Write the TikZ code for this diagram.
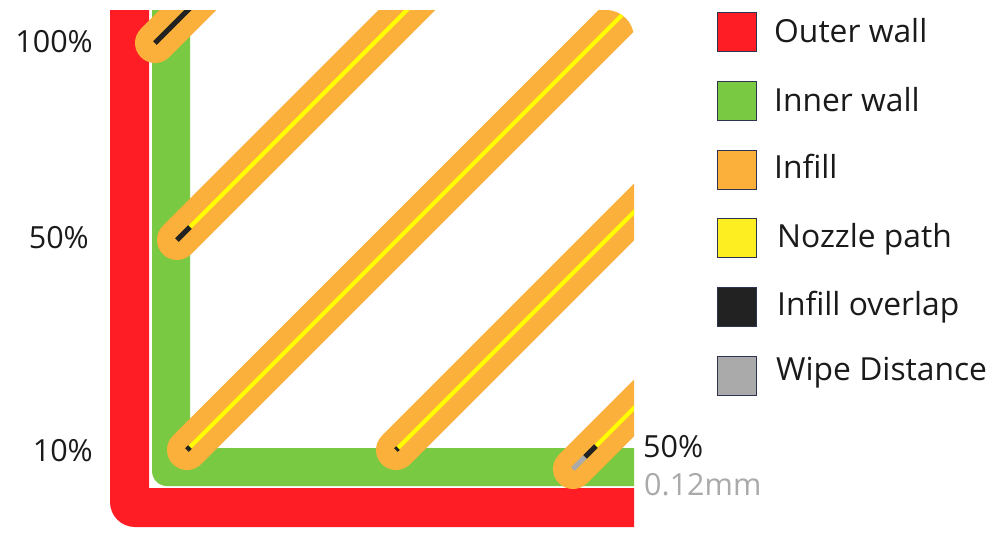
\documentclass[tikz,border=0pt]{standalone}
\usepackage{fontspec}
\setmainfont{Open Sans}
\definecolor{wallred}{HTML}{FF1D25}
\definecolor{wallgreen}{HTML}{7AC943}
\definecolor{infillorange}{HTML}{FBB03B}
\definecolor{nozzleyellow}{HTML}{FFFF00}
\definecolor{legendyellow}{HTML}{FCEE21}
\definecolor{overlapblack}{HTML}{222222}
\definecolor{wipegray}{HTML}{AAAAAA}
\definecolor{boxborder}{HTML}{2E3350}
\definecolor{textdark}{HTML}{1A1A1A}
\begin{document}
\begin{tikzpicture}[x=1pt,y=-1pt,
  infill/.style={draw=infillorange,line width=40pt,line cap=round},
  nozzle/.style={draw=nozzleyellow,line width=4pt},
  overlap/.style={draw=overlapblack,line width=5pt},
  wipe/.style={draw=wipegray,line width=5pt},
  legbox/.style={draw=boxborder,line width=1.6pt,minimum size=39pt,inner sep=0pt},
  legtext/.style={anchor=base west,inner sep=0pt,text=textdark,font=\fontsize{31.8}{36}\selectfont},
  pct/.style={inner sep=0pt,text=textdark,font=\fontsize{30.5}{36}\selectfont}]
\useasboundingbox (0,0) rectangle (1000,539);
\fill[white] (0,0) rectangle (1000,539);

% named coordinates of the infill lines
\coordinate (c1) at (155,43);  \coordinate (b1) at (190,8);   \coordinate (e1) at (655,-457);
\coordinate (c2) at (177,240); \coordinate (b2) at (190,227); \coordinate (e2) at (677,-260);
\coordinate (c3) at (187,450); \coordinate (b3) at (190,447); \coordinate (e3) at (687,-50);
\coordinate (c4) at (396,450); \coordinate (b4) at (398,448); \coordinate (e4) at (896,-50);
\coordinate (c5) at (573,469); \coordinate (g5) at (585,457); \coordinate (b5) at (596,446); \coordinate (e5) at (1073,-31);

\begin{scope}
\clip (110,10) -- (606,10) .. controls (621.5,10) and (634,22.5) .. (634,38)
  -- (634,527) -- (135,527) .. controls (121.2,527) and (110,515.8) .. (110,502) -- cycle;
% outer wall
\fill[wallred] (110,0) -- (149,0) -- (149,488) -- (640,488) -- (640,540) -- (100,540) -- (100,0) -- cycle;
% inner wall
\fill[wallgreen] (152,0) -- (190,0) -- (190,448) -- (640,448) -- (640,486) -- (167,486)
  .. controls (158.7,486) and (152,479.3) .. (152,471) -- cycle;
% infill
\foreach \i in {1,...,5} { \draw[infill] (c\i) -- (e\i); }
% nozzle paths and overlaps
\draw[nozzle] (b1) -- (e1);
\draw[overlap] (c1) -- (b1);
\draw[nozzle] (b2) -- (e2);
\draw[overlap] (c2) -- (b2);
\draw[nozzle] (b3) -- (e3);
\draw[overlap] (c3) -- (b3);
\draw[nozzle] (b4) -- (e4);
\draw[overlap] (c4) -- (b4);
\draw[nozzle] (b5) -- (e5);
\draw[overlap] (g5) -- (b5);
\draw[wipe] (c5) -- (g5);
\end{scope}

% percentage labels
\node[pct,anchor=base east] (p100) at (93,52) {100\%};
\node[pct,anchor=base east] (p50) at (89,248) {50\%};
\node[pct,anchor=base east] (p10) at (93,461) {10\%};
\node[pct,anchor=base west] (p50r) at (643,457) {50\%};
\node[pct,anchor=base west,text=wipegray] (wd) at (644,495) {0.12mm};

% legend
\node[legbox,fill=wallred] (k1) at (737,32) {};
\node[legbox,fill=wallgreen] (k2) at (737,101) {};
\node[legbox,fill=infillorange] (k3) at (737,170) {};
\node[legbox,fill=legendyellow] (k4) at (737,238) {};
\node[legbox,fill=overlapblack] (k5) at (737,307) {};
\node[legbox,fill=wipegray] (k6) at (737,376) {};
\node[legtext] (t1) at (774,42) {Outer wall};
\node[legtext] (t2) at (774,111) {Inner wall};
\node[legtext] (t3) at (774,178) {Infill};
\node[legtext] (t4) at (777,247) {Nozzle path};
\node[legtext] (t5) at (777,315) {Infill overlap};
\node[legtext] (t6) at (776,380) {Wipe Distance};
\end{tikzpicture}
\end{document}
